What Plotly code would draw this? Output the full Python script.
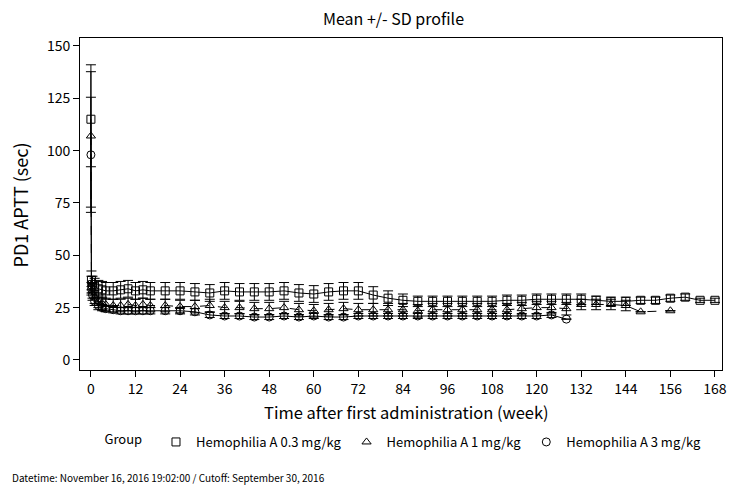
import plotly.graph_objects as go

# ---------------- data ----------------
sq_t = [0, 0.14, 0.43, 1, 2, 3, 4, 6, 8, 10, 12, 14, 16, 20, 24, 28, 32, 36, 40, 44, 48, 52, 56, 60,
        64, 68, 72, 76, 80, 84, 88, 92, 96, 100, 104, 108, 112, 116, 120, 124, 128, 132, 136, 140,
        144, 148, 152, 156, 160, 164, 168]
sq_m = [115, 38, 36, 35, 34, 33.5, 33, 33, 33.5, 34, 33, 33.5, 33, 33, 33, 32.5, 32, 33, 32.5, 32.5,
        32.5, 33, 32, 31.5, 32.5, 33, 33, 31, 29.5, 28.5, 28, 28, 28, 28, 28, 28, 28.5, 28.5, 29, 29,
        29, 29, 28.5, 28, 28, 28.5, 28.5, 29.5, 30, 28.5, 28.5]
sq_sd = [22.7, 4.5, 4, 4, 4, 4, 4, 4, 4, 4, 4, 4, 4, 4, 4, 4, 4, 4, 4, 4, 4, 4, 4, 4, 4, 4, 4, 4, 3.5,
         3, 2.5, 2.5, 2.5, 2.5, 2.5, 2.5, 2.5, 2.5, 2.5, 2.5, 2.5, 2.5, 2, 2, 2, 1.5, 1.5, 1.5, 1.5, 1, 1]

tr_t = [0, 0.14, 0.43, 1, 2, 3, 4, 6, 8, 10, 12, 14, 16, 20, 24, 28, 32, 36, 40, 44, 48, 52, 56, 60,
        64, 68, 72, 76, 80, 84, 88, 92, 96, 100, 104, 108, 112, 116, 120, 124, 128, 132, 136, 140,
        144, 148, 156]
tr_m = [107, 36, 33, 30, 28, 27, 26.5, 26, 26, 26.5, 26, 26.5, 26, 26, 25.5, 25.5, 26, 25, 25, 24.5,
        24.5, 25, 24, 23.5, 24, 24.5, 24, 24, 24, 24, 23.5, 24, 24, 24, 24, 24, 24, 24.5, 25, 25,
        24.5, 26.5, 26.5, 26.5, 26, 23, 23.5]
tr_sd = [34, 4, 3.5, 3, 3, 3, 3, 3, 3, 3, 3, 3, 3, 3, 3, 3, 3, 3, 3, 3, 3, 3, 3, 3, 3, 3, 3, 3, 3, 3,
         3, 3, 3, 3, 3, 3, 3, 3, 3, 3, 3, 2.5, 2.5, 2.5, 2.5, None, None]

ci_t = [0, 0.14, 0.43, 1, 2, 3, 4, 6, 8, 10, 12, 14, 16, 20, 24, 28, 32, 36, 40, 44, 48, 52, 56, 60,
        64, 68, 72, 76, 80, 84, 88, 92, 96, 100, 104, 108, 112, 116, 120, 124, 128]
ci_m = [98, 34, 31, 28, 26, 25, 24.5, 24, 23.5, 23.5, 23.5, 23.5, 23.5, 23.5, 23.5, 23, 21.5, 21, 21,
        20.5, 20.5, 21, 20.5, 21, 20.5, 20.5, 21, 21, 21, 21, 21, 21, 21, 21, 21, 21, 21, 21, 21,
        21.5, 19.5]
ci_sd = [27.5, 3, 2.5, 2, 2, 1.5, 1.5, 1.5, 1.5, 1.5, 1.5, 1.5, 1.5, 1.5, 1.5, 1.5, 1.2, 1.2, 1.2,
         1.2, 1.2, 1.2, 1.2, 1.2, 1.2, 1.2, 1.2, 1.2, 1.2, 1.2, 1.2, 1.2, 1.2, 1.2, 1.2, 1.2, 1.2,
         1.2, 1.2, 1.2, None]

group_names = ["Hemophilia A 0.3 mg/kg", "Hemophilia A 1 mg/kg", "Hemophilia A 3 mg/kg"]
x_ticks = list(range(0, 169, 12))
y_ticks = [0, 25, 50, 75, 100, 125, 150]

FONT = "Noto Sans CJK JP, Arial, sans-serif"

fig = go.Figure()
series = [
    (sq_t, sq_m, sq_sd, "square-open", "solid", group_names[0]),
    (tr_t, tr_m, tr_sd, "triangle-up-open", "dash", group_names[1]),
    (ci_t, ci_m, ci_sd, "circle-open", "solid", group_names[2]),
]
for t, m, sd, sym, dash, name in series:
    fig.add_trace(go.Scatter(
        x=t, y=m, mode="lines+markers", name=name, showlegend=False,
        line=dict(color="black", width=1, dash=dash),
        marker=dict(symbol=sym, size=8, color="black", line=dict(width=1, color="black")),
        error_y=dict(type="data", array=sd, visible=True, color="black", thickness=1, width=5),
    ))
for t, m, sd, sym, dash, name in series:
    fig.add_trace(go.Scatter(
        x=[None], y=[None], mode="markers", name=name, showlegend=True,
        marker=dict(symbol=sym, size=8, color="black", line=dict(width=1, color="black")),
    ))

L, R, T, B = 80, 7, 38, 116
W, H = 734, 486
pw, ph = W - L - R, H - T - B

def px_x(px):
    return (px - L) / pw

def px_y(py):
    return (H - B - py) / ph

fig.update_layout(
    width=W, height=H, margin=dict(l=L, r=R, t=T, b=B),
    paper_bgcolor="white", plot_bgcolor="white",
    font=dict(family=FONT, size=14, color="black"),
    xaxis=dict(range=[-2.94, 169.9], tickvals=x_ticks, ticks="outside", ticklen=6,
               tickcolor="black", showgrid=False, zeroline=False, showline=True,
               linecolor="black", linewidth=1, mirror=True, tickfont=dict(size=14)),
    yaxis=dict(range=[-4.8, 153.8], tickvals=y_ticks, ticks="outside", ticklen=6,
               tickcolor="black", showgrid=False, zeroline=False, showline=True,
               linecolor="black", linewidth=1, mirror=True, tickfont=dict(size=14)),
    legend=dict(orientation="h", x=px_x(407), xanchor="center", y=px_y(442), yanchor="middle",
                title=dict(text="Group  ", font=dict(size=13), side="left"), font=dict(size=13),
                itemwidth=30, tracegroupgap=0, bgcolor="rgba(0,0,0,0)"),
    annotations=[
        dict(text="Mean +/- SD profile", x=px_x(396), y=px_y(18), xref="paper", yref="paper",
             xanchor="center", yanchor="middle", showarrow=False, font=dict(size=16)),
        dict(text="Time after first administration (week)", x=px_x(409), y=px_y(412),
             xref="paper", yref="paper", xanchor="center", yanchor="middle",
             showarrow=False, font=dict(size=16.5)),
        dict(text="PD1 APTT (sec)", x=px_x(20), y=px_y(205), xref="paper", yref="paper",
             xanchor="center", yanchor="middle",
             showarrow=False, textangle=-90, font=dict(size=18)),
        dict(text="Datetime: November 16, 2016 19:02:00 / Cutoff: September 30, 2016",
             x=px_x(9), y=px_y(477), xref="paper", yref="paper", xanchor="left",
             yanchor="middle", showarrow=False, font=dict(size=10)),
    ],
)

fig.write_html("out.html")
